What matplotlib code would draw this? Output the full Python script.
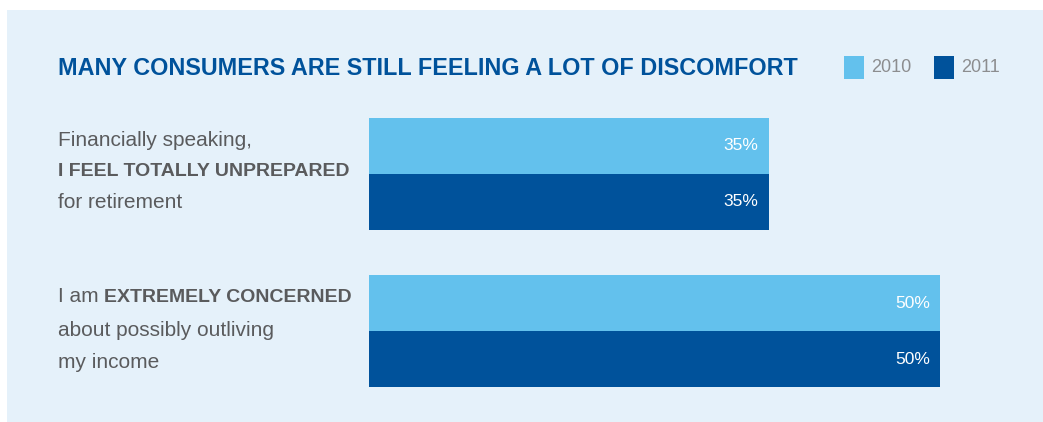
import matplotlib
matplotlib.use("Agg")
import matplotlib.pyplot as plt
from matplotlib.patches import Rectangle
import numpy as np

# data
years = ['2010', '2011']
values_2010 = [35, 50]
values_2011 = [35, 50]
title = 'MANY CONSUMERS ARE STILL FEELING A LOT OF DISCOMFORT'
# each label: list of lines, each line a list of (text, bold)
labels = [
    [[('Financially speaking,', False)],
     [('I FEEL TOTALLY UNPREPARED', True)],
     [('for retirement', False)]],
    [[('I am ', False), ('EXTREMELY CONCERNED', True)],
     [('about possibly outliving', False)],
     [('my income', False)]],
]

light = '#63C1ED'
dark = '#00529B'
panel = '#E5F1FA'
grey_txt = '#5A5B5D'
fam = 'Liberation Sans'

W, H = 1043, 422
fig = plt.figure(figsize=(W / 100, H / 100), dpi=100)
fig.patch.set_facecolor('white')

def px(x, y):
    return x / W, 1 - y / H

# light blue panel
fig.patches.append(Rectangle(px(7, H), (W - 7) / W, (H - 10) / H,
                             transform=fig.transFigure, facecolor=panel,
                             edgecolor='none', zorder=-5))

# title
fig.text(*px(58, 75), title, family=fam, fontweight='bold', fontsize=16.8,
         color=dark, va='baseline', ha='left')

# legend
for i, (yr, col) in enumerate(zip(years, [light, dark])):
    x0 = 844 + i * 90
    fig.patches.append(Rectangle(px(x0, 79), 20 / W, 23 / H,
                                 transform=fig.transFigure, facecolor=col,
                                 edgecolor='none'))
    fig.text(*px(x0 + 27, 68), yr, family=fam, fontsize=13,
             color='#8C8D8F', va='center', ha='left')

# bars axes: x from 369 to 940 px (0..50), y from 118 to 387 px
ax = fig.add_axes([369 / W, 1 - 387 / H, (940 - 369) / W, (387 - 118) / H])
ax.set_facecolor('none')
h = 56 / 157
pos = np.arange(len(values_2010))
ax.barh(pos - h / 2, values_2010, height=h, color=light, align='center')
ax.barh(pos + h / 2, values_2011, height=h, color=dark, align='center')
ax.set_xlim(0, 50)
ax.set_ylim(len(pos) - 1 + h, -h)
ax.axis('off')
for p, v1, v2 in zip(pos, values_2010, values_2011):
    ax.text(v1 - 0.9, p - h / 2, f'{v1}%', color='white', fontsize=12.5,
            family=fam, ha='right', va='center')
    ax.text(v2 - 0.9, p + h / 2, f'{v2}%', color='white', fontsize=12.5,
            family=fam, ha='right', va='center')

# left labels with mixed weights
fig.canvas.draw()
renderer = fig.canvas.get_renderer()
line_y = [[140, 172, 203], [297, 330, 363]]
for lab, ys in zip(labels, line_y):
    for line, y in zip(lab, ys):
        x = 58
        for txt, bold in line:
            t = fig.text(*px(x, y), txt, family=fam,
                         fontsize=14 if bold else 15,
                         fontweight='bold' if bold else 'normal',
                         color=grey_txt, va='center', ha='left')
            bb = t.get_window_extent(renderer)
            x += bb.width

fig.savefig('out.png', dpi=100, facecolor='white')
